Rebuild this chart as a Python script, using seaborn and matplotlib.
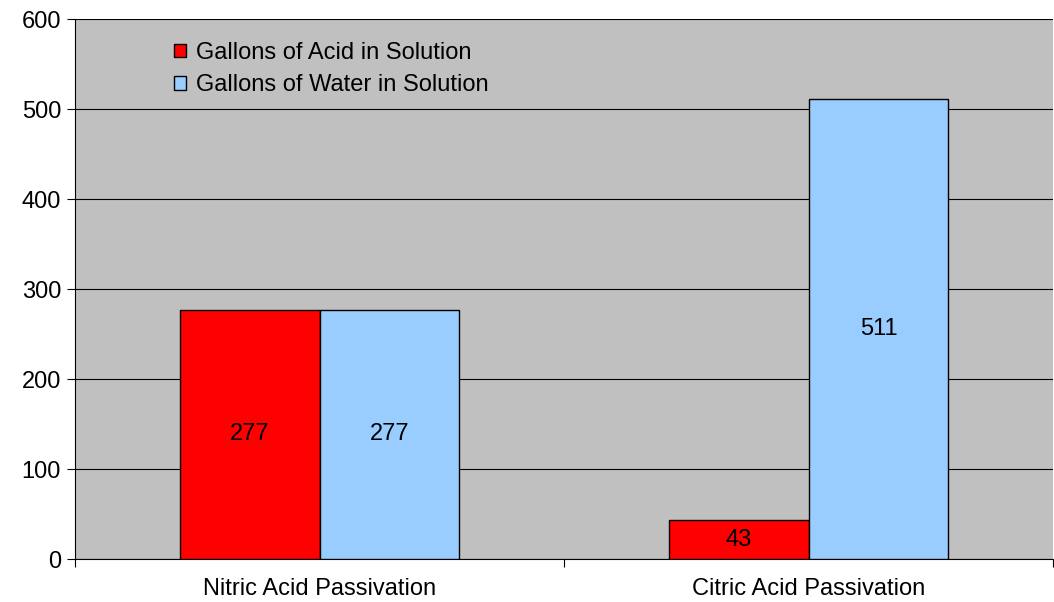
import numpy as np
import matplotlib.pyplot as plt
import pandas as pd
import seaborn as sns

# data ==========================================================================
methods = ['Nitric Acid Passivation', 'Citric Acid Passivation']
series = ['Gallons of Acid in Solution', 'Gallons of Water in Solution']
acid = [277, 43]
water = [277, 511]

df = pd.DataFrame({
    'Method': methods * 2,
    'Series': [series[0]] * 2 + [series[1]] * 2,
    'Gallons': acid + water,
})

# Figure ========================================================================
sns.set_style('ticks')
plt.rcParams['font.family'] = ['Liberation Sans', 'DejaVu Sans']
plt.rcParams['text.color'] = 'black'
fs = 17

fig = plt.figure(figsize=(10.54, 6.02), dpi=100)
ax = fig.add_axes([75 / 1054, 43 / 602, 978 / 1054, 540 / 602])
ax.set_facecolor('#C0C0C0')

g = sns.barplot(data=df, x='Method', y='Gallons', hue='Series',
                palette=['#FF0000', '#99CCFF'], width=0.572,
                edgecolor='black', linewidth=1, saturation=1, ax=ax, zorder=3)

for c in ax.containers:
    ax.bar_label(c, label_type='center', fontsize=fs, color='black')

ax.set_ylim(0, 600)
ax.set_xlim(-0.5, 1.5)
ax.set_yticks(range(0, 601, 100))
ax.yaxis.grid(True, color='black', linewidth=0.8, zorder=0)
ax.set_axisbelow(True)

# x ticks between the categories, like the spreadsheet original
ax.set_xticks([-0.5, 0.5, 1.5], minor=True)
ax.tick_params(axis='x', which='major', length=0, pad=14, labelsize=fs, labelcolor='black')
ax.tick_params(axis='x', which='minor', length=6, width=0.8, color='black')
ax.tick_params(axis='y', length=6, width=0.8, labelsize=fs, pad=4, color='black', labelcolor='black')
ax.set_xlabel('')
ax.set_ylabel('')

for s in ['left', 'bottom']:
    ax.spines[s].set_color('black')
    ax.spines[s].set_linewidth(0.8)
ax.spines['top'].set_visible(False)
ax.spines['right'].set_visible(False)

leg = ax.legend(loc='upper left', bbox_to_anchor=(0.101, 0.958), frameon=False,
                fontsize=fs, handlelength=0.5, handleheight=0.5,
                handletextpad=0.45, labelspacing=0.45, borderaxespad=0, borderpad=0)
for h in leg.legend_handles:
    h.set_edgecolor('black')
    h.set_linewidth(1)

fig.savefig('out.png', dpi=100)
